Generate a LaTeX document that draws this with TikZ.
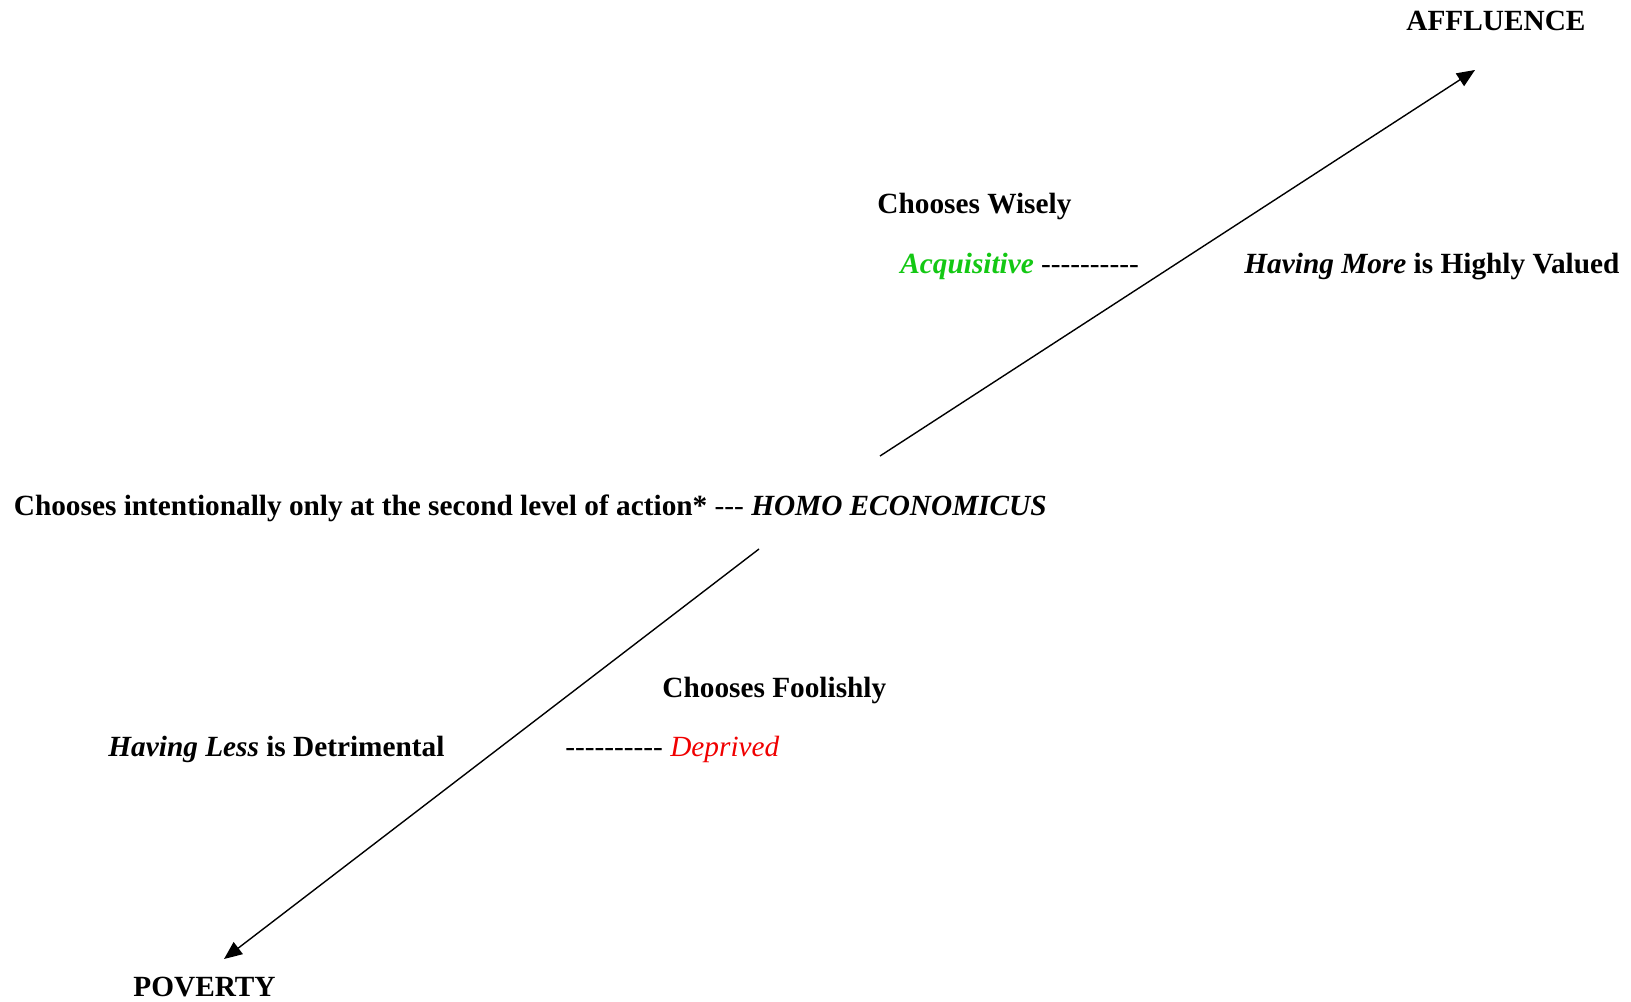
\documentclass[tikz,border=0pt]{standalone}
\usepackage{fontspec}
\setmainfont{Liberation Serif}
\usetikzlibrary{arrows.meta}
\definecolor{acqgreen}{RGB}{20,200,20}
\definecolor{depred}{RGB}{240,0,0}
\newcommand\hyp{\mbox{-}}
\newcommand\tendash{\hyp\hyp\hyp\hyp\hyp\hyp\hyp\hyp\hyp\hyp}
\tikzset{
  lbl/.style={inner sep=0pt, anchor=base west, font=\fontsize{14.65}{17}\selectfont\bfseries},
  arr/.style={line width=0.7pt, -{Triangle[length=9pt,width=7.5pt]}}
}
\begin{document}
\begin{tikzpicture}[x=0.5pt,y=-0.5pt]
\useasboundingbox (0,0) rectangle (1631,1001);
\node[lbl] (affl) at (1406,31) {AFFLUENCE};
\node[lbl] (wise) at (877,213) {Chooses Wisely};
\node[lbl] (acq) at (900,273.6) {\textcolor{acqgreen}{\textit{Acquisitive}} \textmd{\tendash}};
\node[lbl] (more) at (1244,273.6) {\textit{Having More} is Highly Valued};
\node[lbl] (homo) at (13.5,515) {Chooses intentionally only at the second level of action* \textmd{\hyp\hyp\hyp} \textit{HOMO ECONOMICUS}};
\node[lbl] (fool) at (662,697) {Chooses Foolishly};
\node[lbl] (less) at (108,756) {\textit{Having Less} is Detrimental};
\node[lbl] (depr) at (565,756) {\textmd{\tendash\ \textcolor{depred}{\textit{Deprived}}}};
\node[lbl] (pov) at (133,996.5) {POVERTY};
\coordinate (us) at (880,456);
\coordinate (ue) at (1475,70);
\coordinate (ls) at (759,549);
\coordinate (le) at (224,959);
\draw[arr] (us) -- (ue);
\draw[arr] (ls) -- (le);
\end{tikzpicture}
\end{document}
